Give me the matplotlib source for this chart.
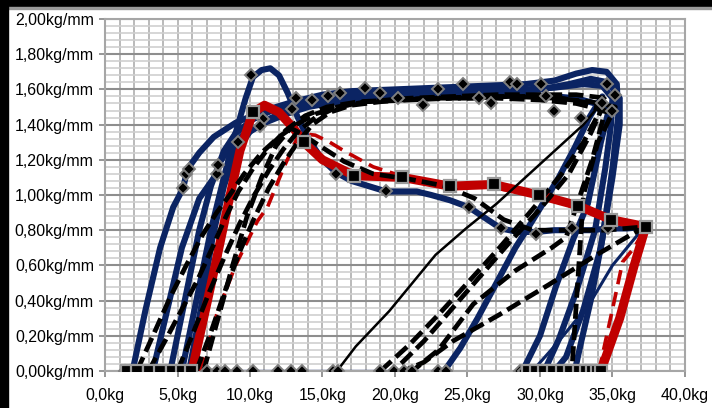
import numpy as np
import matplotlib.pyplot as plt
from matplotlib.patches import Rectangle

plt.rcParams['font.family'] = ['Liberation Sans', 'DejaVu Sans']

# === DATA (kg vs kg/mm) === #
x_ticks = [0, 5, 10, 15, 20, 25, 30, 35, 40]
x_labels = ['0,0kg', '5,0kg', '10,0kg', '15,0kg', '20,0kg', '25,0kg', '30,0kg', '35,0kg', '40,0kg']
y_ticks = [0.0, 0.2, 0.4, 0.6, 0.8, 1.0, 1.2, 1.4, 1.6, 1.8, 2.0]
y_labels = ['0,00kg/mm', '0,20kg/mm', '0,40kg/mm', '0,60kg/mm', '0,80kg/mm', '1,00kg/mm',
            '1,20kg/mm', '1,40kg/mm', '1,60kg/mm', '1,80kg/mm', '2,00kg/mm']

blue1_x = [1.9, 2.8, 3.8, 4.7, 5.4, 5.6, 5.8, 6.5, 7.5, 9.0, 11.0, 13.0, 15.0, 17.0, 20.0, 23.0, 26.0,
           29.0, 31.0, 32.5, 33.6, 34.6, 35.3, 35.4, 35.0, 34.3, 33.5, 32.8, 32.4]
blue1_y = [0.00, 0.35, 0.70, 0.93, 1.04, 1.12, 1.16, 1.24, 1.33, 1.41, 1.48, 1.53, 1.57, 1.59, 1.60, 1.61, 1.62,
           1.63, 1.65, 1.69, 1.71, 1.70, 1.63, 1.45, 1.15, 0.75, 0.40, 0.15, 0.00]

blue2_x = [3.3, 4.3, 5.3, 6.5, 7.7, 7.8, 8.5, 9.5, 11.0, 12.5, 14.0, 16.0, 18.0, 21.0, 24.0, 27.0, 30.0,
           32.0, 33.5, 34.7, 35.5, 35.5, 35.0, 34.2, 33.0, 31.8, 31.0]
blue2_y = [0.00, 0.35, 0.70, 0.98, 1.12, 1.17, 1.26, 1.34, 1.41, 1.46, 1.50, 1.53, 1.55, 1.56, 1.57, 1.58, 1.60,
           1.63, 1.66, 1.64, 1.55, 1.40, 1.10, 0.70, 0.35, 0.08, 0.00]

blue3_x = [4.5, 5.5, 6.5, 7.3, 8.2, 9.0, 10.2, 11.5, 13.0, 15.0, 17.0, 20.0, 23.0, 26.0, 29.0, 31.0, 33.0,
           34.3, 35.0, 34.9, 34.5, 33.8, 32.5, 31.3, 30.3]
blue3_y = [0.00, 0.40, 0.80, 1.05, 1.25, 1.35, 1.43, 1.48, 1.52, 1.55, 1.56, 1.57, 1.58, 1.59, 1.60, 1.61, 1.63,
           1.62, 1.55, 1.40, 1.15, 0.80, 0.45, 0.18, 0.00]

blue_peak_x = [5.3, 6.3, 7.3, 8.2, 9.0, 9.7, 10.2, 10.8, 11.4, 12.0, 12.6, 13.3, 14.0, 15.0, 15.9, 17.0, 18.2,
               19.4, 20.5, 21.5, 22.5, 23.8, 25.1, 26.2, 27.3, 28.5, 29.7, 31.0, 32.2, 33.5, 34.7, 36.0, 37.3]
blue_peak_y = [0.00, 0.40, 0.80, 1.10, 1.35, 1.55, 1.67, 1.71, 1.72, 1.68, 1.58, 1.44, 1.32, 1.20, 1.13, 1.08, 1.05,
               1.02, 1.02, 1.02, 1.00, 0.97, 0.93, 0.87, 0.81, 0.79, 0.79, 0.80, 0.80, 0.80, 0.81, 0.81, 0.82]

blue5_x = [5.8, 6.6, 7.4, 8.2, 9.0, 10.0, 11.5, 13.0, 15.0, 17.5, 20.0, 23.0, 26.0, 29.0, 31.0, 32.5, 33.8,
           34.8, 34.2, 33.3, 32.3, 31.1, 30.0, 28.8]
blue5_y = [0.00, 0.35, 0.75, 1.05, 1.25, 1.36, 1.44, 1.49, 1.52, 1.54, 1.55, 1.56, 1.57, 1.57, 1.56, 1.55, 1.52,
           1.50, 1.30, 0.95, 0.75, 0.48, 0.20, 0.00]

blue4_x = [23.4, 24.5, 25.7, 27.0, 28.3, 29.3, 30.2, 31.3, 32.4, 33.4, 34.3]
blue4_y = [0.00, 0.13, 0.30, 0.50, 0.70, 0.83, 0.95, 1.10, 1.27, 1.44, 1.56]

blue_thin_x = [37.3, 35.0, 33.4, 31.1, 29.7, 29.3]
blue_thin_y = [0.83, 0.60, 0.38, 0.15, 0.02, 0.00]

base_x = [1.2, 23.5]
base_y = [0.0, 0.0]

red_x = [1.5, 3.0, 4.5, 6.0, 6.8, 7.6, 8.5, 9.3, 10.2, 11.0, 12.0, 13.0, 13.7, 15.0, 17.2, 20.5, 23.8,
         26.8, 29.9, 32.6, 34.9, 37.3, 36.5, 35.5, 34.2, 31.0, 29.2]
red_y = [0.00, 0.00, 0.00, 0.00, 0.30, 0.60, 0.95, 1.25, 1.47, 1.51, 1.47, 1.38, 1.30, 1.20, 1.11, 1.10, 1.05,
         1.06, 1.00, 0.94, 0.86, 0.82, 0.60, 0.30, 0.00, 0.00, 0.00]
red_sq_x = [1.5, 2.2, 3.0, 3.8, 4.6, 5.3, 5.9, 10.2, 13.7, 17.2, 20.5, 23.8, 26.8, 29.9, 32.6, 34.9, 37.3,
            29.2, 29.7, 30.3, 30.9, 31.5, 32.1, 32.7, 33.2, 33.6, 33.9, 34.2]
red_sq_y = [0.00, 0.00, 0.00, 0.00, 0.00, 0.00, 0.00, 1.47, 1.30, 1.11, 1.10, 1.05, 1.06, 1.00, 0.94, 0.86, 0.82,
            0.00, 0.00, 0.00, 0.00, 0.00, 0.00, 0.00, 0.00, 0.00, 0.00, 0.00]

red_dash_x = [6.5, 7.3, 7.7, 9.0, 10.5, 11.2, 12.3, 13.4, 14.5, 15.5, 16.5, 18.5, 20.0, 23.0, 26.0, 30.0,
              33.0, 35.0, 37.3, 36.5, 35.7, 35.0, 34.2, 34.0, 30.0, 29.0]
red_dash_y = [0.00, 0.20, 0.32, 0.60, 0.85, 0.93, 1.15, 1.35, 1.34, 1.30, 1.25, 1.16, 1.12, 1.07, 1.05, 1.00,
              0.93, 0.87, 0.82, 0.70, 0.62, 0.35, 0.05, 0.00, 0.00, 0.00]

dash1_x = [2.2, 3.3, 4.5, 5.6, 6.7, 7.7, 8.6, 9.6, 10.8, 12.0, 13.2, 14.5, 16.0, 18.0, 21.0, 24.0, 27.0, 30.0,
           32.5, 34.6, 33.5, 32.0, 30.0, 28.0, 26.0, 24.0, 22.0, 19.9]
dash1_y = [0.00, 0.20, 0.42, 0.60, 0.77, 0.90, 1.00, 1.12, 1.24, 1.33, 1.40, 1.46, 1.50, 1.53, 1.55, 1.56, 1.57, 1.57,
           1.57, 1.55, 1.35, 1.12, 0.92, 0.74, 0.55, 0.36, 0.17, 0.00]

dash2_x = [3.0, 4.2, 5.3, 6.4, 7.4, 8.3, 9.2, 10.2, 11.3, 12.5, 13.8, 15.3, 17.5, 20.0, 23.0, 26.0, 29.0,
           31.5, 33.5, 34.3, 33.0, 31.5, 29.5, 27.2, 25.0, 23.0, 21.0, 19.0]
dash2_y = [0.00, 0.18, 0.35, 0.52, 0.70, 0.87, 1.02, 1.15, 1.27, 1.37, 1.45, 1.50, 1.53, 1.54, 1.55, 1.56, 1.56,
           1.55, 1.52, 1.50, 1.30, 1.12, 0.92, 0.70, 0.50, 0.32, 0.15, 0.00]

dash3_x = [5.0, 6.0, 7.2, 8.3, 9.3, 10.3, 11.3, 12.3, 13.3, 14.5, 16.0, 18.0, 21.0, 24.0, 27.0, 30.0, 32.5,
           34.5, 33.6, 31.8, 30.8, 28.3, 25.4, 23.0, 21.2]
dash3_y = [0.00, 0.20, 0.45, 0.66, 0.84, 1.00, 1.14, 1.26, 1.36, 1.44, 1.50, 1.53, 1.54, 1.55, 1.55, 1.54, 1.52,
           1.48, 1.20, 0.76, 0.70, 0.57, 0.38, 0.12, 0.00]

dash4_x = [6.3, 7.3, 8.3, 9.3, 10.3, 11.3, 12.3, 13.3, 14.3, 15.5, 17.0, 19.0, 22.0, 25.0, 28.0, 31.0, 33.5,
           35.2, 34.0, 33.0, 32.2]
dash4_y = [0.00, 0.22, 0.46, 0.68, 0.87, 1.04, 1.18, 1.30, 1.40, 1.47, 1.51, 1.53, 1.55, 1.55, 1.56, 1.55, 1.53,
           1.50, 1.30, 1.00, 0.00]

dash5_x = [6.8, 7.8, 8.8, 9.8, 10.8, 11.8, 12.8, 13.5, 14.8, 16.5, 18.5, 21.0, 23.5, 25.5, 27.5, 29.5, 32.0,
           34.5, 37.3, 36.4, 33.9, 30.6, 27.2, 24.0, 22.0, 20.6]
dash5_y = [0.00, 0.30, 0.60, 0.88, 1.10, 1.28, 1.38, 1.35, 1.28, 1.19, 1.12, 1.09, 1.05, 0.98, 0.86, 0.80, 0.80,
           0.80, 0.82, 0.78, 0.66, 0.49, 0.32, 0.17, 0.05, 0.00]

thin_x = [16.0, 17.3, 19.6, 22.8, 24.9, 27.0, 29.0, 31.0, 33.0, 34.5]
thin_y = [0.00, 0.14, 0.34, 0.66, 0.81, 0.95, 1.10, 1.25, 1.40, 1.55]

dia_x = [1.4, 1.7, 2.1, 3.0, 3.3, 4.5, 5.3, 7.0, 7.7, 8.3, 9.1, 10.2, 11.9, 12.8, 13.6, 15.7, 16.1, 19.0, 19.9,
         20.6, 21.2, 23.0, 23.5, 28.6, 28.9,
         5.4, 5.6, 5.8, 7.7, 7.8, 10.1, 10.9, 10.7, 9.2, 12.9, 13.2, 14.3, 15.4, 16.2, 17.9, 19.0, 20.2, 21.9,
         23.0, 24.7, 25.8, 26.6, 27.9, 28.4, 30.1, 30.4, 31.0, 32.8, 34.6, 35.2, 35.0, 34.3,
         15.9, 19.4, 25.1, 27.3, 29.7, 32.2, 34.7]
dia_y = [0.00, 0.00, 0.00, 0.00, 0.00, 0.00, 0.00, 0.00, 0.00, 0.00, 0.00, 0.00, 0.00, 0.00, 0.00, 0.00, 0.00,
         0.00, 0.00, 0.00, 0.00, 0.00, 0.00, 0.00, 0.00,
         1.04, 1.12, 1.15, 1.12, 1.17, 1.68, 1.43, 1.39, 1.30, 1.49, 1.55, 1.54, 1.56, 1.58, 1.61, 1.58, 1.55, 1.51,
         1.60, 1.63, 1.55, 1.52, 1.64, 1.63, 1.63, 1.56, 1.48, 1.44, 1.63, 1.57, 1.48, 1.52,
         1.12, 1.02, 0.93, 0.81, 0.78, 0.81, 0.81]

# === STYLE === #
navy = '#0b2463'
red = '#c00000'

fig = plt.figure(figsize=(7.12, 4.08), dpi=100)
fig.patches.append(Rectangle((0, 0.983), 1, 0.017, transform=fig.transFigure, color='black', zorder=0))
fig.patches.append(Rectangle((0, 0.978), 1, 0.005, transform=fig.transFigure, color='#9a9a9a', zorder=0))
fig.patches.append(Rectangle((0, 0), 0.011, 1, transform=fig.transFigure, color='black', zorder=0))

ax = fig.add_axes([0.1475, 0.0907, 0.8145, 0.8627])

# grid
for v in np.arange(0, 41, 1):
    ax.axvline(v, color='#b4b4b4', lw=1.3, zorder=0)
for h in np.arange(0, 2.001, 0.04):
    ax.axhline(h, color='#cfcfcf', lw=1.2, zorder=0)
for h in y_ticks:
    ax.axhline(h, color='#8e8e8e', lw=1.5, zorder=0)

# blue thick curves
for bx, by in [(blue1_x, blue1_y), (blue2_x, blue2_y), (blue3_x, blue3_y),
               (blue_peak_x, blue_peak_y), (blue5_x, blue5_y), (blue4_x, blue4_y)]:
    ax.plot(bx, by, color=navy, lw=4.4, solid_joinstyle='round', solid_capstyle='round', zorder=2)
ax.plot(blue_thin_x, blue_thin_y, color=navy, lw=2.2, zorder=2)
ax.plot(base_x, base_y, color=navy, lw=2.4, zorder=2)

# red
ax.plot(red_x, red_y, color=red, lw=6.5, solid_joinstyle='round', zorder=3)
ax.plot(red_dash_x, red_dash_y, color=red, lw=2.6, dashes=(4, 2.2), zorder=3)

# black dashed
for dx, dy in [(dash1_x, dash1_y), (dash2_x, dash2_y), (dash3_x, dash3_y),
               (dash4_x, dash4_y), (dash5_x, dash5_y)]:
    ax.plot(dx, dy, color='black', lw=3.4, dashes=(3.2, 1.3), dash_capstyle='butt', zorder=4)
ax.plot(thin_x, thin_y, color='black', lw=1.8, zorder=4)

# markers
ax.plot(dia_x, dia_y, ls='none', marker='D', ms=6.5, mfc='black', mec='#7f7f7f', mew=1.4, zorder=5)
ax.plot(red_sq_x, red_sq_y, ls='none', marker='s', ms=9, mfc='black', mec='#9a9a9a', mew=1.6, zorder=6)

ax.set_xlim(0, 40)
ax.set_ylim(0, 2.0)
ax.set_xticks(x_ticks)
ax.set_xticklabels(x_labels)
ax.set_yticks(y_ticks)
ax.set_yticklabels(y_labels)
ax.tick_params(axis='both', labelsize=11.5, length=4, width=1.3, color='#8e8e8e', direction='out')
ax.tick_params(axis='x', pad=8)
ax.tick_params(axis='y', pad=4)
for s in ax.spines.values():
    s.set_color('#a6a6a6')
    s.set_linewidth(1.5)

fig.savefig('out.png', dpi=100)
